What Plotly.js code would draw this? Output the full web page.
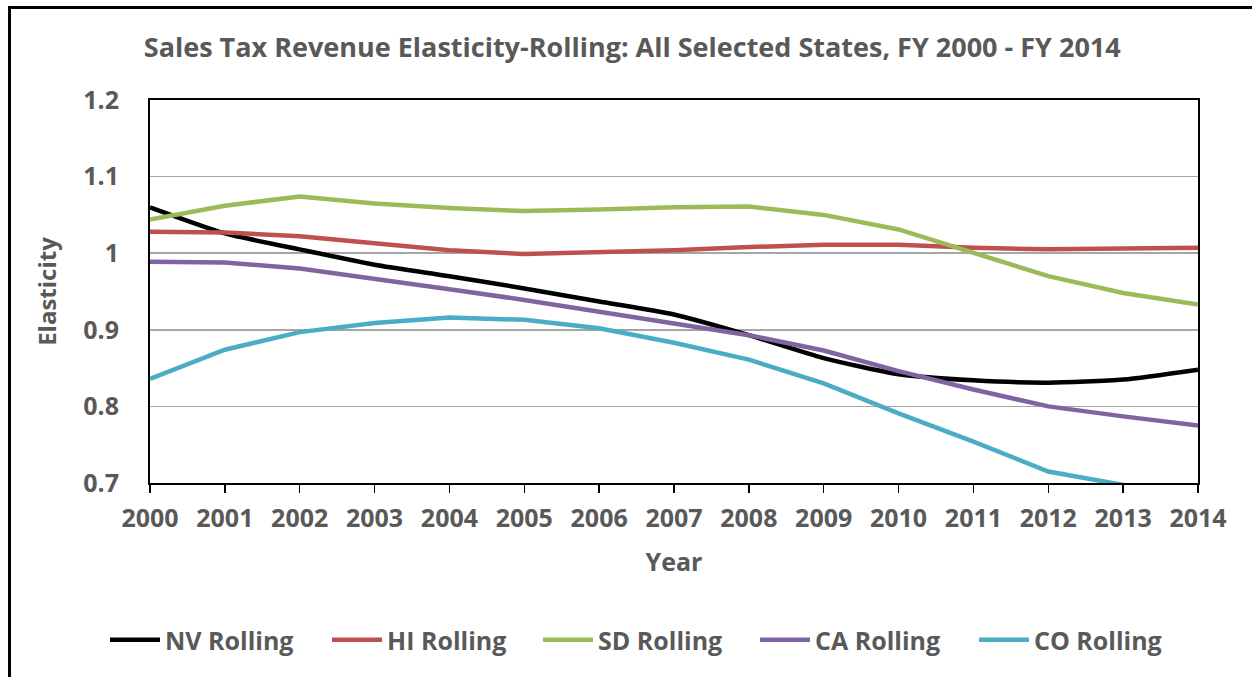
<!DOCTYPE html>
<html>
<head>
<meta charset="utf-8">
<script src="https://cdn.plot.ly/plotly-3.0.1.min.js"></script>
<style>
html,body{margin:0;padding:0;background:#fff;overflow:hidden;}
#frame{position:absolute;left:8px;top:6px;width:1300px;height:700px;border:3px solid #000;box-sizing:border-box;}
#chart{position:absolute;left:0;top:0;width:1252px;height:677px;}
</style>
</head>
<body>
<div id="frame"></div>
<div id="chart"></div>
<script>
const years = [2000,2001,2002,2003,2004,2005,2006,2007,2008,2009,2010,2011,2012,2013,2014];
const nv = [1.060,1.026,1.005,0.985,0.970,0.954,0.937,0.920,0.893,0.863,0.842,0.834,0.831,0.835,0.848];
const hi = [1.028,1.027,1.022,1.013,1.004,0.999,1.001,1.004,1.008,1.011,1.011,1.007,1.005,1.006,1.007];
const sd = [1.044,1.062,1.074,1.065,1.059,1.055,1.057,1.060,1.061,1.050,1.031,1.000,0.970,0.948,0.933];
const ca = [0.989,0.988,0.980,0.967,0.953,0.939,0.924,0.909,0.893,0.873,0.846,0.822,0.800,0.787,0.775];
const co = [0.836,0.874,0.897,0.909,0.916,0.913,0.902,0.883,0.861,0.830,0.791,0.754,0.715,0.698,0.680];
const names = ['NV Rolling','HI Rolling','SD Rolling','CA Rolling','CO Rolling'];
const colors = ['#000000','#c0504d','#9bbb59','#8064a2','#4bacc6'];
const series = [nv,hi,sd,ca,co];
const legendIds = ['legend','legend2','legend3','legend4','legend5'];
const legendLeft = [110,332,543,760,979];

const traces = series.map((s,i)=>({
  x: years, y: s, name: names[i], type:'scatter', mode:'lines',
  line:{color:colors[i], width:4.5, shape: i===0 ? 'spline' : 'linear', smoothing: 0.6},
  legend: legendIds[i],
  cliponaxis:true
}));

const font = 'Open Sans, Liberation Sans, sans-serif';
const layout = {
  width:1252, height:677,
  margin:{l:150, r:54, t:100, b:194, autoexpand:false},
  paper_bgcolor:'rgba(0,0,0,0)', plot_bgcolor:'#fff',
  font:{family:font, color:'#595959'},
  title:{text:'<b>Sales Tax Revenue Elasticity-Rolling: All Selected States, FY 2000 - FY 2014</b>',
         font:{family:font, size:27, color:'#595959'}, x:0.505, xanchor:'center', y:0.93, yanchor:'middle'},
  xaxis:{
    range:[2000,2014], tickmode:'array', tickvals:years, ticktext:years.map(String),
    tickfont:{family:font, size:25, color:'#595959', weight:'bold'},
    ticks:'outside', ticklen:8, tickwidth:1.5, tickcolor:'#000',
    showline:true, linecolor:'#000', linewidth:2, mirror:true,
    showgrid:false, zeroline:false, ticklabelstandoff:4,
    title:{text:'<b>Year</b>', font:{family:font, size:25, color:'#595959'}, standoff:20}
  },
  yaxis:{
    range:[0.7,1.2], tickmode:'array', tickvals:[0.7,0.8,0.9,1.0,1.1,1.2], ticktext:['0.7','0.8','0.9','1','1.1','1.2'],
    tickfont:{family:font, size:25, color:'#595959', weight:'bold'},
    ticks:'', showline:true, linecolor:'#000', linewidth:2, mirror:true,
    showgrid:true, gridcolor:'#a6a6a6', gridwidth:1.5, zeroline:false, ticklabelstandoff:24,
    title:{text:'<b>Elasticity</b>', font:{family:font, size:24, color:'#595959'}, standoff:20}
  },
  showlegend:true
};
legendIds.forEach((id,i)=>{
  layout[id] = {orientation:'h', xref:'container', yref:'container',
    x:(legendLeft[i]-5)/1252, xanchor:'left', y:1-640/677, yanchor:'middle',
    font:{family:font, size:25, color:'#595959', weight:'bold'}, itemwidth:50,
    bgcolor:'rgba(0,0,0,0)'};
});
Plotly.newPlot('chart', traces, layout, {displayModeBar:false, staticPlot:true});
</script>
</body>
</html>
